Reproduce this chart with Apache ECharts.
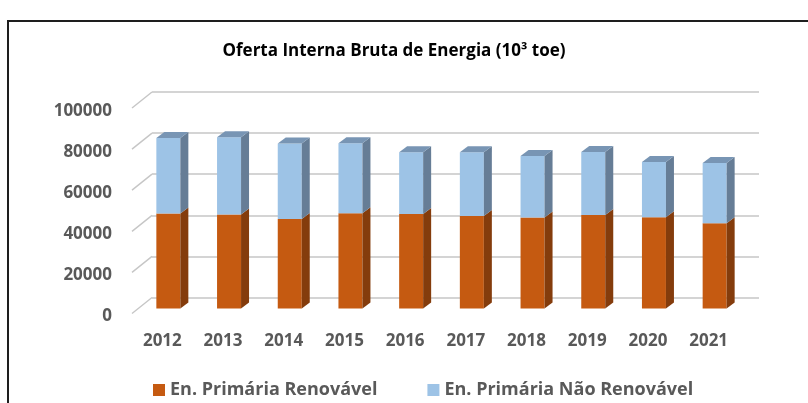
<!DOCTYPE html>
<html>
<head>
<meta charset="utf-8">
<script src="https://cdn.jsdelivr.net/npm/echarts@6/dist/echarts.min.js"></script>
<style>
html, body { margin: 0; padding: 0; background: #fff; }
#main { width: 808px; height: 403px; }
</style>
</head>
<body>
<div id="main"></div>
<script>
const anos = ['2012', '2013', '2014', '2015', '2016', '2017', '2018', '2019', '2020', '2021']
const renovavel = [46200, 45700, 43600, 46300, 46000, 45000, 44300, 45500, 44400, 41500]
const naoRenovavel = [36800, 37600, 36700, 34100, 30000, 31000, 29900, 30700, 26900, 29300]
const yTicks = [0, 20000, 40000, 60000, 80000, 100000]

const chart = echarts.init(document.getElementById('main'))

// profundidade das colunas (efeito 3D) e posicao da face frontal
const DX = 8
const DY = -6
const FX = -26
const FW = 24
const FY = 11
const gridColor = '#c6c6c6'
const labelFont = { fontFamily: 'Open Sans', fontWeight: 'bold', fontSize: 17, color: '#595959' }

function segmento (cores, comTopo) {
  return (params, api) => {
    const i = api.value(0)
    const lo = api.coord([i, api.value(1)])
    const hi = api.coord([i, api.value(2)])
    const l = lo[0] + FX
    const r = l + FW
    const yb = lo[1] + FY
    const yt = hi[1] + FY
    const children = [
      { type: 'polygon', shape: { points: [[l, yb], [r, yb], [r, yt], [l, yt]] }, style: { fill: cores[0] } },
      { type: 'polygon', shape: { points: [[r, yb], [r + DX, yb + DY], [r + DX, yt + DY], [r, yt]] }, style: { fill: cores[1] } }
    ]
    if (comTopo) {
      children.push({ type: 'polygon', shape: { points: [[l, yt], [r, yt], [r + DX, yt + DY], [l + DX, yt + DY]] }, style: { fill: cores[2] } })
    }
    return { type: 'group', children: children }
  }
}

chart.setOption({
  animation: false,
  title: {
    text: 'Oferta Interna Bruta de Energia (10³ toe)',
    left: 389,
    textAlign: 'center',
    top: 38,
    textStyle: { fontFamily: 'Open Sans', fontWeight: 'bold', fontSize: 17, color: '#000' }
  },
  legend: {
    data: ['En. Primária Renovável', 'En. Primária Não Renovável'],
    left: 153,
    top: 381,
    padding: 0,
    icon: 'rect',
    itemWidth: 12,
    itemHeight: 12,
    itemGap: 50,
    textStyle: { fontFamily: 'Open Sans', fontWeight: 'bold', fontSize: 18, color: '#595959' }
  },
  graphic: [
    {
      type: 'rect',
      silent: true,
      shape: { x: 8, y: 21, width: 840, height: 420 },
      style: { fill: 'none', stroke: '#1e1e1e', lineWidth: 2 }
    }
  ],
  grid: [
    { left: 152, top: 92, width: 607, height: 205.5 },
    { left: 132, top: 111, width: 607, height: 205.5 }
  ],
  xAxis: [
    { gridIndex: 0, type: 'category', data: anos, show: false },
    {
      gridIndex: 1,
      type: 'category',
      data: anos,
      axisLine: { show: false },
      axisTick: { show: false },
      axisLabel: Object.assign({ margin: 16 }, labelFont)
    }
  ],
  yAxis: [
    {
      gridIndex: 0,
      type: 'value',
      min: 0,
      max: 100000,
      interval: 20000,
      axisLabel: { show: false },
      axisLine: { show: false },
      axisTick: { show: false },
      splitLine: { lineStyle: { color: gridColor, width: 1.5 } }
    },
    {
      gridIndex: 1,
      type: 'value',
      min: 0,
      max: 100000,
      interval: 20000,
      axisLine: { show: false },
      axisTick: { show: false },
      splitLine: { show: false },
      axisLabel: Object.assign({ margin: 20, formatter: v => String(v) }, labelFont)
    }
  ],
  series: [
    {
      // linhas inclinadas da parede esquerda
      type: 'custom',
      xAxisIndex: 0,
      yAxisIndex: 0,
      silent: true,
      data: yTicks.map(v => [0, v]),
      renderItem: (params, api) => {
        const p = api.coord([0, api.value(1)])
        const x0 = params.coordSys.x
        return {
          type: 'line',
          shape: { x1: x0 - 20, y1: p[1] + 16, x2: x0, y2: p[1] },
          style: { stroke: gridColor, lineWidth: 1.5 }
        }
      }
    },
    {
      name: 'En. Primária Renovável',
      type: 'custom',
      xAxisIndex: 0,
      yAxisIndex: 0,
      itemStyle: { color: '#C55A11' },
      encode: { x: 0, y: [1, 2] },
      data: anos.map((a, i) => [i, 0, renovavel[i]]),
      renderItem: segmento(['#C55A11', '#843C0C', '#A04A10'], false)
    },
    {
      name: 'En. Primária Não Renovável',
      type: 'custom',
      xAxisIndex: 0,
      yAxisIndex: 0,
      itemStyle: { color: '#9DC3E6' },
      encode: { x: 0, y: [1, 2] },
      data: anos.map((a, i) => [i, renovavel[i], renovavel[i] + naoRenovavel[i]]),
      renderItem: segmento(['#9DC3E6', '#667D96', '#7895B4'], true)
    }
  ]
})
</script>
</body>
</html>
